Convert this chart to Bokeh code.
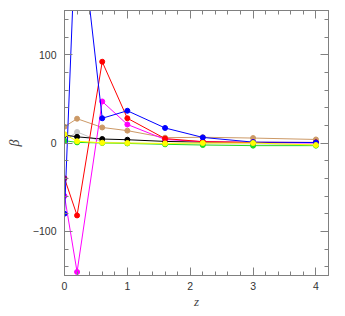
from bokeh.plotting import figure
from bokeh.models import Range1d, LinearAxis, FixedTicker
from bokeh.embed import file_html
from bokeh.resources import INLINE

z = [0, 0.2, 0.6, 1.0, 1.6, 2.2, 3.0, 4.0]
beta_gray = [3, 12.5, 1, 0, -1, -1, -1, -2]
beta_green = [2.6, 0.7, 0, -0.5, -1.5, -2.3, -3, -3]
beta_tan = [18.5, 27.5, 17.6, 14, 6, 6.5, 5.6, 4]
beta_black = [9, 7, 4.5, 3.7, 1.8, 1, 0.5, 0.5]
beta_magenta = [-60, -146, 47, 21, 4, 1.5, 0.5, 0]
beta_red = [-40, -82, 92, 28, 5, 1.5, 0.7, 0.7]
beta_blue = [-80, 280, 28, 36.5, 17, 6.3, 1, 0.5]
beta_yellow = [10, 2, 0.3, 0, -0.5, 0, 0, -2.3]

series = [
    (beta_gray, "#c8c8c8"),
    (beta_green, "#22dd22"),
    (beta_tan, "#cc9966"),
    (beta_black, "#000000"),
    (beta_magenta, "#ff00ff"),
    (beta_red, "#ff0000"),
    (beta_blue, "#0000ff"),
    (beta_yellow, "#ffff00"),
]

x_major = [0, 1, 2, 3, 4]
y_major = [-100, 0, 100]

p = figure(width=345, height=316, output_backend="svg", toolbar_location=None,
           x_range=Range1d(0, 4.2), y_range=Range1d(-150, 150),
           x_axis_location=None, y_axis_location=None,
           min_border_left=64, min_border_right=17, min_border_top=10, min_border_bottom=41)
p.grid.visible = False
p.outline_line_color = "#808080"
p.background_fill_color = "white"
p.border_fill_color = "white"

def style(ax, labels=True):
    ax.axis_line_color = "#808080"
    ax.major_tick_line_color = "#808080"
    ax.minor_tick_line_color = "#808080"
    ax.major_tick_in = 8
    ax.major_tick_out = 0
    ax.minor_tick_in = 4
    ax.minor_tick_out = 0
    ax.major_label_text_font = "Liberation Sans"
    ax.major_label_text_font_size = "10.5px"
    ax.major_label_text_color = "#333333"
    if not labels:
        ax.major_label_text_font_size = "0px"
        ax.major_label_text_alpha = 0
        ax.major_label_standoff = 0

xt = FixedTicker(ticks=x_major, minor_ticks=[i * 0.2 for i in range(0, 22)])
yt = FixedTicker(ticks=y_major, minor_ticks=[i * 20 for i in range(-7, 8)])

bx = LinearAxis(ticker=xt, axis_label="z")
style(bx)
bx.major_label_standoff = 6
bx.axis_label_standoff = 1
bx.axis_label_text_font = "Liberation Serif"
bx.axis_label_text_font_style = "italic"
bx.axis_label_text_font_size = "13px"
p.add_layout(bx, "below")

ly = LinearAxis(ticker=yt, axis_label="β")
style(ly)
ly.major_label_standoff = 8
ly.major_label_overrides = {-100: "\u2212100"}
ly.axis_label_standoff = 8
ly.axis_label_text_font = "Liberation Serif"
ly.axis_label_text_font_style = "italic"
ly.axis_label_text_font_size = "14px"
p.add_layout(ly, "left")

tx = LinearAxis(ticker=xt)
style(tx, labels=False)
p.add_layout(tx, "above")
ry = LinearAxis(ticker=yt)
style(ry, labels=False)
p.add_layout(ry, "right")

for vals, col in series:
    p.line(z, vals, line_color=col, line_width=1)
    p.scatter(z, vals, size=5, fill_color=col, line_color=col)

open("out.html", "w").write(file_html(p, INLINE))
